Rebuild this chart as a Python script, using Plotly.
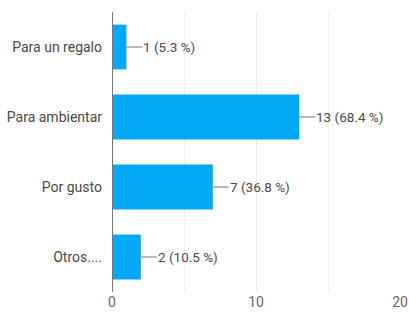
import plotly.graph_objects as go

categories = ["Para un regalo", "Para ambientar", "Por gusto", "Otros...."]
values = [1, 13, 7, 2]
percents = [5.3, 68.4, 36.8, 10.5]
tick_vals = [0, 10, 20]

fig = go.Figure()
fig.add_trace(go.Bar(
    y=categories, x=values, orientation="h",
    marker=dict(color="#03a9f4", line=dict(width=0)),
    width=0.64, hoverinfo="skip",
))

for c, v, p in zip(categories, values, percents):
    fig.add_shape(type="line", xref="x", yref="y", xsizemode="pixel",
                  xanchor=v, x0=0, x1=16, y0=c, y1=c,
                  line=dict(color="#757575", width=1))
    fig.add_annotation(x=v, y=c, xref="x", yref="y", showarrow=False,
                       text=f"{v} ({p} %)", xanchor="left", xshift=15,
                       font=dict(family="Roboto", size=13.5, color="#4a4a4a"))

fig.update_layout(
    width=409, height=316,
    margin=dict(l=112, r=9, t=12, b=24),
    plot_bgcolor="white", paper_bgcolor="white",
    showlegend=False,
    bargap=0.36,
    font=dict(family="Roboto", size=14, color="#444"),
)
fig.update_xaxes(range=[0, 20], tickvals=tick_vals, automargin=False,
                 showgrid=True, gridcolor="#ebebeb", gridwidth=1,
                 zeroline=False, showline=False, ticks="",
                 tickfont=dict(color="#666", size=14),
                 minor=dict(showgrid=True, dtick=5, gridcolor="#f2f2f2"))
fig.update_yaxes(autorange="reversed", categoryorder="array", categoryarray=categories,
                 showgrid=False, zeroline=False, ticks="", automargin=False,
                 ticklabelstandoff=9,
                 tickfont=dict(color="#4a4a4a", size=14))
fig.add_shape(type="line", xref="x", yref="paper", x0=0, x1=0, y0=0, y1=1,
              line=dict(color="#757575", width=2), layer="above")

fig.write_html("out.html", config={"displayModeBar": False},
               post_script="document.body.style.margin='0';document.body.style.overflow='hidden';")
